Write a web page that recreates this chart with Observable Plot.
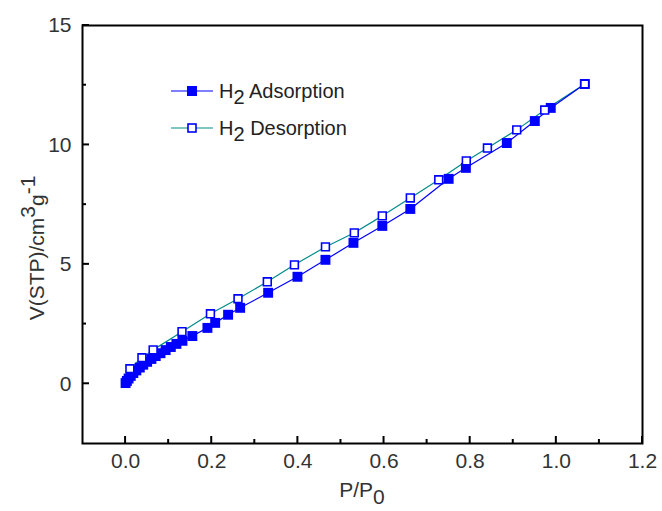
<!DOCTYPE html>
<html><head><meta charset="utf-8">
<script src="https://cdn.jsdelivr.net/npm/d3@7"></script>
<script src="https://cdn.jsdelivr.net/npm/@observablehq/plot@0.6"></script>
<style>
body{margin:0;background:#fff;}
#wrap{width:662px;height:511px;}
</style></head><body><div id="wrap"></div>
<script>
// Adsorption branch (P/P0, V)
const adsX = [0.000,0.003,0.007,0.012,0.018,0.025,0.033,0.041,0.050,0.060,0.070,0.081,0.093,0.105,0.118,0.132,0.155,0.190,0.208,0.238,0.266,0.331,0.399,0.464,0.529,0.596,0.661,0.750,0.790,0.885,0.950,0.987,1.066];
const adsY = [0.03,0.12,0.22,0.33,0.45,0.56,0.68,0.80,0.92,1.04,1.16,1.28,1.41,1.54,1.67,1.80,2.00,2.34,2.55,2.89,3.18,3.81,4.48,5.19,5.90,6.61,7.32,8.58,9.04,10.08,11.00,11.55,12.55];
// Desorption branch
const desX = [1.066,0.973,0.908,0.840,0.791,0.727,0.661,0.596,0.531,0.464,0.392,0.329,0.261,0.197,0.131,0.064,0.038,0.010];
const desY = [12.55,11.46,10.63,9.87,9.33,8.54,7.78,7.03,6.32,5.73,4.98,4.27,3.56,2.93,2.18,1.42,1.09,0.63];

const xMajor = [0.0,0.2,0.4,0.6,0.8,1.0,1.2];
const xMinor = [0.1,0.3,0.5,0.7,0.9,1.1];
const yMajor = [0,5,10,15];
const yMinor = [2.5,7.5,12.5];
const seriesNames = ["Adsorption","Desorption"];

const ads = adsX.map((x,i)=>({x, y: adsY[i]}));
const des = desX.map((x,i)=>({x, y: desY[i]}));

const font = "'Liberation Sans', Arial, sans-serif";
const W = 662, H = 511, mL = 82, mR = 20, mT = 25, mB = 68;
const xDom = [-0.1, 1.2], yDom = [-2.5, 15];

const chart = Plot.plot({
  width: W, height: H,
  marginLeft: mL, marginRight: mR, marginTop: mT, marginBottom: mB,
  style: {fontFamily: font, background: "#fff"},
  x: {domain: xDom},
  y: {domain: yDom},
  marks: [
    Plot.axisX({ticks: xMajor, tickSize: 0, tickPadding: 10, tickFormat: d3.format(".1f"), fontSize: 21, fill: "#333", label: null}),
    Plot.axisY({ticks: yMajor, tickSize: 0, tickPadding: 11, tickFormat: d3.format("d"), fontSize: 21, fill: "#333", label: null}),
    Plot.line(des, {x: "x", y: "y", stroke: "#008b8b", strokeWidth: 1.2}),
    Plot.line(ads, {x: "x", y: "y", stroke: "#0000ff", strokeWidth: 1.2}),
    Plot.dot(ads, {x: "x", y: "y", symbol: "square", r: 5.6, fill: "#0000ff", stroke: "none"}),
    Plot.dot(des, {x: "x", y: "y", symbol: "square", r: 4.4, fill: "white", stroke: "#0000ff", strokeWidth: 1.6}),
    Plot.frame({stroke: "black", strokeWidth: 2})
  ]
});
document.getElementById("wrap").appendChild(chart);

const svg = d3.select(chart);
const sx = chart.scale("x"), sy = chart.scale("y");
const bottom = sy.apply(yDom[0]), left = sx.apply(xDom[0]);
// inward ticks on the bottom and left edges, placed with Plot's scales
const tickG = svg.append("g");
function tick(x1, y1, x2, y2) {
  tickG.append("path").attr("d", `M${x1},${y1}L${x2},${y2}`).attr("stroke", "black").attr("stroke-width", 2).attr("fill", "none");
}
xMajor.forEach(v => tick(sx.apply(v), bottom, sx.apply(v), bottom - 7));
xMinor.forEach(v => tick(sx.apply(v), bottom, sx.apply(v), bottom - 4));
yMajor.forEach(v => tick(left, sy.apply(v), left + 7, sy.apply(v)));
yMinor.forEach(v => tick(left, sy.apply(v), left + 4, sy.apply(v)));

// X axis title P/P0
const xt = svg.append("text").attr("x", 362).attr("y", 497).attr("text-anchor", "middle")
  .attr("font-family", font).attr("font-size", 21).attr("fill", "#333");
xt.append("tspan").text("P/P");
xt.append("tspan").attr("dy", 7).text("0");
// Y axis title
const yt = svg.append("text").attr("transform", "translate(44,248) rotate(-90)").attr("text-anchor", "middle")
  .attr("font-family", font).attr("font-size", 21).attr("fill", "#333");
yt.append("tspan").text("V(STP)/cm");
yt.append("tspan").attr("dy", -9).text("3");
yt.append("tspan").attr("dy", 9).text("g");
yt.append("tspan").attr("dy", -9).text("-1");

// Legend
const leg = svg.append("g").attr("font-family", font).attr("font-size", 20).attr("fill", "#222").attr("text-anchor", "start");
const rows = [
  {name: seriesNames[0], y: 91, line: "#0000ff", fill: "#0000ff", size: 10},
  {name: seriesNames[1], y: 128, line: "#008b8b", fill: "white", size: 8}
];
rows.forEach(r => {
  leg.append("line").attr("x1", 171).attr("x2", 213).attr("y1", r.y).attr("y2", r.y).attr("stroke", r.line).attr("stroke-width", 1.2);
  leg.append("rect").attr("x", 192 - r.size/2).attr("y", r.y - r.size/2).attr("width", r.size).attr("height", r.size)
    .attr("fill", r.fill).attr("stroke", "#0000ff").attr("stroke-width", r.fill === "white" ? 1.6 : 0);
  const t = leg.append("text").attr("x", 219).attr("y", r.y + 7);
  t.append("tspan").text("H");
  t.append("tspan").attr("dy", 6).text("2");
  t.append("tspan").attr("dy", -6).text(" " + r.name);
});
</script>
</body></html>
